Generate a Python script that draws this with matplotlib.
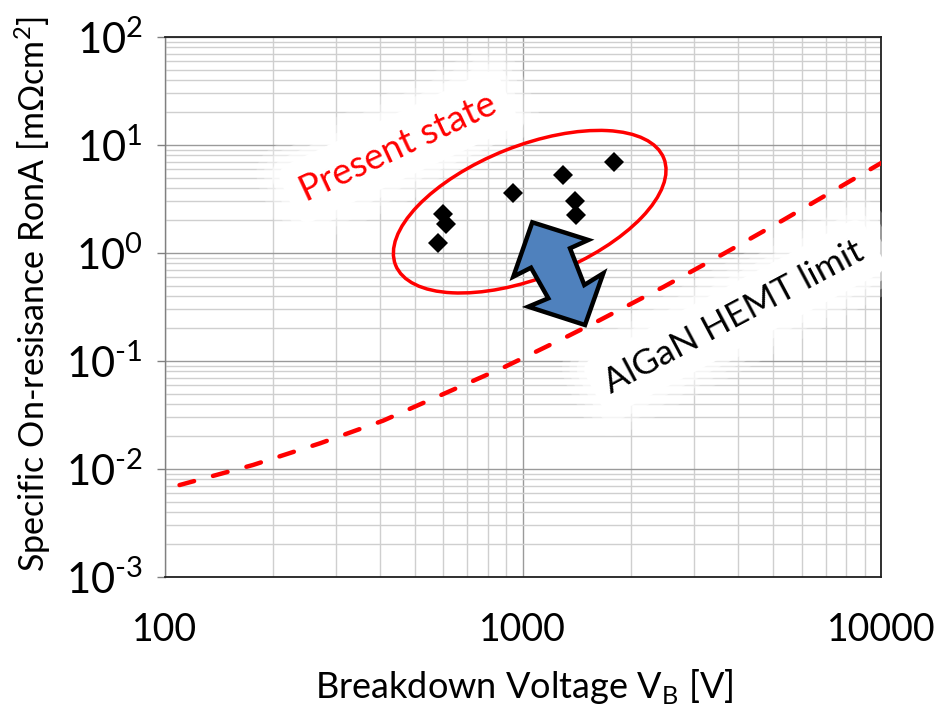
import matplotlib
matplotlib.use("Agg")
import matplotlib.pyplot as plt
from matplotlib.patches import Ellipse, Polygon
from matplotlib.ticker import LogLocator, NullFormatter

# Reported devices: breakdown voltage [V] vs specific on-resistance [mOhm cm^2]
breakdown_v = [579, 600, 611, 937, 1296, 1402, 1409, 1799]
ron_a = [1.245, 2.30, 1.86, 3.62, 5.24, 3.03, 2.26, 7.0]

# AlGaN HEMT material limit curve
limit_v = [110, 176.5, 271.6, 407, 892, 1327, 1644, 2466, 3627, 5335, 10000]
limit_ron = [0.0071, 0.0109, 0.0173, 0.028, 0.0885, 0.168, 0.24, 0.484, 0.98, 2.02, 6.8]

x_ticks = [100, 1000, 10000]
x_tick_labels = ["100", "1000", "10000"]
y_ticks = [1e-3, 1e-2, 1e-1, 1e0, 1e1, 1e2]
y_tick_labels = [r"$\mathregular{10^{\text{-}3}}$", r"$\mathregular{10^{\text{-}2}}$",
                 r"$\mathregular{10^{\text{-}1}}$", r"$\mathregular{10^{0}}$",
                 r"$\mathregular{10^{1}}$", r"$\mathregular{10^{2}}$"]

plt.rcParams["font.family"] = ["Lato", "DejaVu Sans"]
plt.rcParams["mathtext.fontset"] = "custom"
plt.rcParams["mathtext.rm"] = "Lato"

W, H, DPI = 935, 711, 100
fig = plt.figure(figsize=(W / DPI, H / DPI), dpi=DPI)
ax = fig.add_axes([164.7 / W, 1 - 577 / H, 716.3 / W, 540 / H])
ax.set_xscale("log")
ax.set_yscale("log")
ax.set_xlim(100, 10000)
ax.set_ylim(1e-3, 1e2)

ax.xaxis.set_minor_locator(LogLocator(base=10, subs=range(2, 10), numticks=50))
ax.yaxis.set_minor_locator(LogLocator(base=10, subs=range(2, 10), numticks=50))
ax.xaxis.set_minor_formatter(NullFormatter())
ax.yaxis.set_minor_formatter(NullFormatter())
ax.set_xticks(x_ticks, x_tick_labels)
ax.set_yticks(y_ticks, y_tick_labels)

ax.grid(which="major", color="#9a9a9a", lw=1.0, zorder=0)
ax.grid(which="minor", color="#cfcfcf", lw=1.0, zorder=0)
ax.set_axisbelow(True)
ax.tick_params(which="minor", length=0)
ax.tick_params(axis="y", which="major", length=6, width=1, color="#808080", pad=10, labelsize=30)
ax.tick_params(axis="x", which="major", length=0, pad=25, labelsize=27)
for side in ["top", "right", "bottom"]:
    ax.spines[side].set_color("#202020")
    ax.spines[side].set_linewidth(1.3)
ax.spines["left"].set_color("#808080")
ax.spines["left"].set_linewidth(1.0)

fig.text(33 / W, 1 - 294 / H, "Specific On-resisance RonA [mΩcm$^\\mathregular{2}$]",
         rotation=90, ha="center", va="center", fontsize=24.5)
fig.text(524 / W, 1 - 686 / H, "Breakdown Voltage V$_\\mathregular{B}$ [V]",
         ha="center", va="center", fontsize=26)


def soft_label(x, y, s, color, size, rot):
    for pad, alpha in [(1.0, 0.25), (0.8, 0.35), (0.6, 0.55)]:
        ax.text(x, y, s, transform=ax.transAxes, rotation=rot, fontsize=size, color="none",
                ha="center", va="center", rotation_mode="anchor", zorder=3,
                bbox=dict(boxstyle=f"round,pad={pad}", fc="white", ec="none", alpha=alpha))
    ax.text(x, y, s, transform=ax.transAxes, rotation=rot, fontsize=size, color=color,
            ha="center", va="center", rotation_mode="anchor", zorder=4,
            bbox=dict(boxstyle="round,pad=0.4", fc="white", ec="none"))


soft_label((398 - 164.7) / 716.3, (577 - 147) / 540, "Present state", "#ff0000", 26.5, 25)
soft_label((734 - 164.7) / 716.3, (577 - 317) / 540, "AlGaN HEMT limit", "#000000", 25.5, 28)

line, = ax.plot(limit_v, limit_ron, color="#ff0000", lw=3.2, zorder=5,
                dash_capstyle="round", solid_capstyle="round")
line.set_dashes([3.4, 4.4])

ax.plot(breakdown_v, ron_a, linestyle="none", marker="D", ms=10, mew=0,
        color="black", zorder=6)

# Highlight ellipse around the present devices (figure inches)
ax.add_patch(Ellipse((529.7 / DPI, (H - 211.7) / DPI), 288.7 / DPI, 132 / DPI, angle=21.7,
                     fill=False, ec="#ff0000", lw=2.5, transform=fig.dpi_scale_trans,
                     zorder=5, clip_on=False))

# Double-headed zig-zag arrow showing the gap to the limit
arrow_px = [(532.3, 222.3), (588.3, 240), (570, 248.3), (584.3, 285), (603.3, 273.3),
            (585, 325), (528.3, 306.7), (548.3, 298.3), (531, 267.7), (513.3, 276.7)]
ax.add_patch(Polygon([(px / DPI, (H - py) / DPI) for px, py in arrow_px], closed=True,
                     fc="#4f81bd", ec="black", lw=3.2, joinstyle="miter",
                     transform=fig.dpi_scale_trans, zorder=7, clip_on=False))

fig.savefig("out.png", dpi=DPI)
